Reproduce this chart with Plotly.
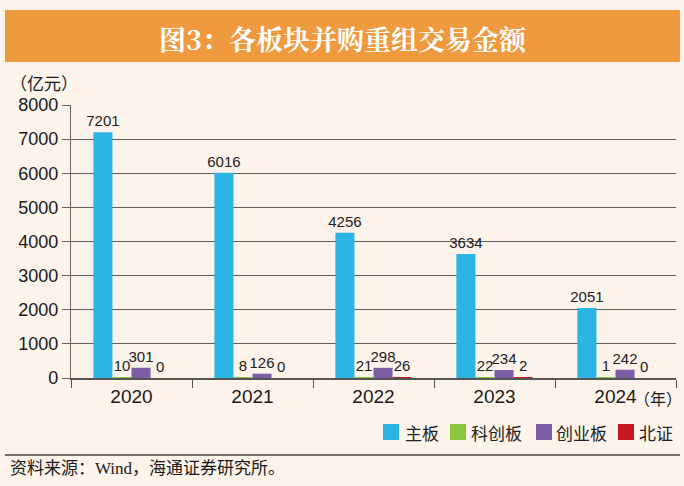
import plotly.graph_objects as go

years = ["2020", "2021", "2022", "2023", "2024"]
main_board = [7201, 6016, 4256, 3634, 2051]
star_board = [10, 8, 21, 22, 1]
chinext = [301, 126, 298, 234, 242]
bse = [0, 0, 26, 2, 0]

series_names = ["主板", "科创板", "创业板", "北证"]
series_values = [main_board, star_board, chinext, bse]
colors = ["#2cb4e4", "#8cc63f", "#7b5ea6", "#c1191f"]

BG = "#fcf3ea"
NUM_FONT = "Liberation Sans, Arial, sans-serif"
CJK_FONT = "Noto Sans CJK SC, sans-serif"

fig = go.Figure()
for name, vals, col in zip(series_names, series_values, colors):
    fig.add_trace(go.Bar(
        x=years, y=vals, name=name, marker=dict(color=col, line=dict(width=0)),
        text=[str(v) for v in vals], textposition="outside",
        textfont=dict(family=NUM_FONT, size=15, color="#222222"),
        constraintext="none", cliponaxis=False, showlegend=False,
    ))

W, H = 684, 486
L, R, T, B = 71, 8, 105, 108
pw, ph = W - L - R, H - T - B

def px(x):
    return (x - L) / pw

def py(y):
    return (H - B - y) / ph

shapes = [
    dict(type="rect", xref="paper", yref="paper", x0=px(5), x1=px(680), y0=py(62), y1=py(10),
         fillcolor="#ef9a3e", line=dict(width=0), layer="below"),
    dict(type="line", xref="paper", yref="paper", x0=px(5), x1=px(680), y0=py(455), y1=py(455),
         line=dict(color="#7a6e66", width=2)),
]
annotations = [
    dict(text="<b>图3：各板块并购重组交易金额</b>", xref="paper", yref="paper", x=px(343), y=py(38),
         xanchor="center", yanchor="middle", showarrow=False,
         font=dict(family="Noto Serif CJK SC, Noto Sans CJK SC, serif", size=27, color="white")),
    dict(text="（亿元）", xref="paper", yref="paper", x=px(8), y=py(82),
         xanchor="left", yanchor="middle", showarrow=False,
         font=dict(family=CJK_FONT, size=17, color="#1a1a1a")),
    dict(text="（年）", xref="paper", yref="paper", x=px(632), y=py(398),
         xanchor="left", yanchor="middle", showarrow=False,
         font=dict(family=CJK_FONT, size=16, color="#1a1a1a")),
    dict(text="资料来源：Wind，海通证券研究所。", xref="paper", yref="paper", x=px(8), y=py(468),
         xanchor="left", yanchor="middle", showarrow=False,
         font=dict(family="Liberation Serif, Noto Sans CJK SC, serif", size=17, color="#1a1a1a")),
]

# custom legend (swatch + label)
legend_sq_x = [383, 450, 536, 618]
legend_tx_x = [403, 469, 554, 637]
legend_y = 432
for name, col, sx, tx in zip(series_names, colors, legend_sq_x, legend_tx_x):
    shapes.append(dict(type="rect", xref="paper", yref="paper", x0=px(sx), x1=px(sx + 16),
                       y0=py(legend_y + 8), y1=py(legend_y - 8), fillcolor=col, line=dict(width=0)))
    annotations.append(dict(text=name, xref="paper", yref="paper", x=px(tx), y=py(legend_y),
                            xanchor="left", yanchor="middle", showarrow=False,
                            font=dict(family=CJK_FONT, size=17, color="#222222")))

fig.update_layout(
    width=W, height=H,
    margin=dict(l=L, r=R, t=T, b=B),
    paper_bgcolor=BG, plot_bgcolor=BG,
    barmode="group", bargap=0.37, bargroupgap=0,
    showlegend=False,
    xaxis=dict(type="category", showgrid=False, showline=True, linecolor="#555555", linewidth=1.5,
               ticks="outside", tickson="boundaries", ticklen=8, tickcolor="#555555",
               tickfont=dict(family=NUM_FONT, size=19, color="#1a1a1a")),
    yaxis=dict(range=[0, 8000], dtick=1000, showgrid=True, gridcolor="#5e5e5e", gridwidth=1.2,
               showline=True, linecolor="#666666", linewidth=1.2, ticks="outside", ticklen=8,
               tickcolor="#666666", zeroline=False,
               tickfont=dict(family=NUM_FONT, size=18, color="#1a1a1a")),
    shapes=shapes,
    annotations=annotations,
)

fig.write_html("out.html", config={"displayModeBar": False},
               post_script="document.body.style.margin='0';document.body.style.background='%s';" % BG)
